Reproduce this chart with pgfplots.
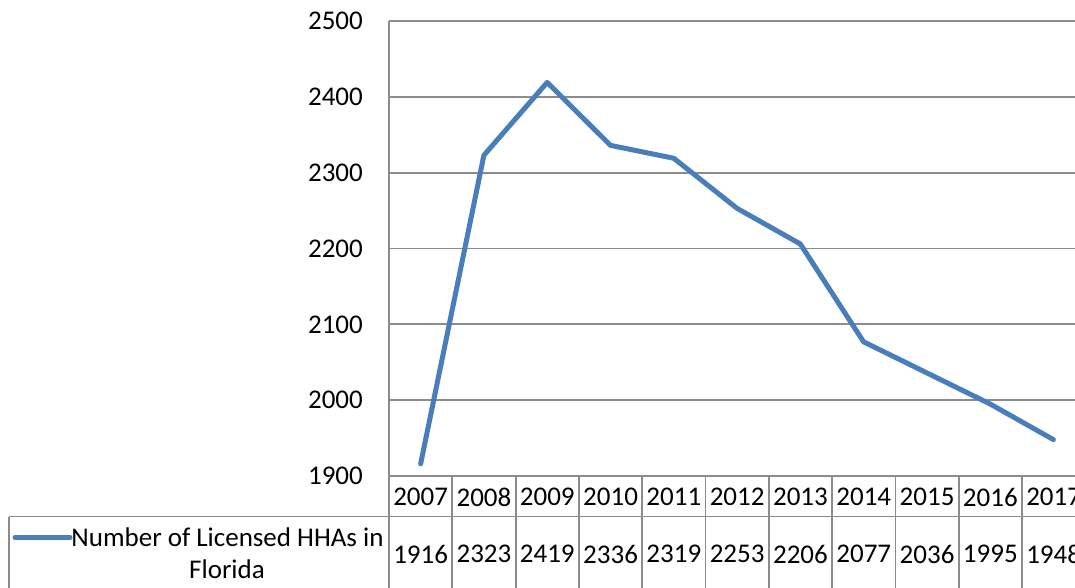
\documentclass[border=0pt]{standalone}
\usepackage{pgfplots}
\pgfplotsset{compat=1.18}
\usepackage{fontspec}
\setmainfont{Carlito}
\definecolor{hha}{HTML}{4A7EBB}
\definecolor{gridgray}{HTML}{8C8C8C}
\begin{document}
\begin{tikzpicture}[x=1bp,y=1bp,font=\fontsize{27bp}{32bp}\selectfont]
\useasboundingbox (0,0) rectangle (1075,-588);
\clip (0,0) rectangle (1075,-588);
\begin{axis}[
 at={(389bp,-476bp)}, anchor=south west,
 scale only axis, width=696bp, height=455bp,
 xmin=-0.5, xmax=10.5, ymin=1900, ymax=2500,
 ytick={1900,2000,...,2500},
 xtick=\empty,
 ymajorgrids, grid style={gridgray, line width=1.8bp},
 axis x line*=bottom, axis y line*=left,
 axis line style={gridgray, line width=1.8bp, -},
 major tick length=0pt,
 yticklabel style={anchor=east, inner sep=0pt, xshift=-26bp, font=\fontsize{27bp}{32bp}\selectfont},
 /pgf/number format/assume math mode=true,
 /pgf/number format/set thousands separator={},
]
\addplot[color=hha, line width=5bp, line cap=round, line join=round, mark=none] coordinates {
 (0,1916) (1,2323) (2,2419) (3,2336) (4,2319) (5,2253) (6,2206) (7,2077) (8,2036) (9,1995) (10,1948)
};
\end{axis}
\begin{scope}[gridgray, line width=1.8bp]
\foreach \k in {0,...,11} \draw ({389+\k*63.3},-476) -- ({389+\k*63.3},-600);
\draw (9,-516.5) -- (1090,-516.5);
\draw (9,-516.5) -- (9,-600);
\end{scope}
\foreach \y [count=\i from 0] in {2007,2008,2009,2010,2011,2012,2013,2014,2015,2016,2017}
  \node[anchor=center, inner sep=0pt] at ({389+63.3*\i+31.65},-497) {\y};
\foreach \v [count=\i from 0] in {1916,2323,2419,2336,2319,2253,2206,2077,2036,1995,1948}
  \node[anchor=center, inner sep=0pt] at ({389+63.3*\i+31.65},-554) {\v};
\draw[hha, line width=5bp, line cap=round] (15,-537.5) -- (70,-537.5);
\node[anchor=base, inner sep=0pt] at (227.5,-546) {Number of Licensed HHAs in};
\node[anchor=base, inner sep=0pt] at (227,-578) {Florida};
\end{tikzpicture}
\end{document}
